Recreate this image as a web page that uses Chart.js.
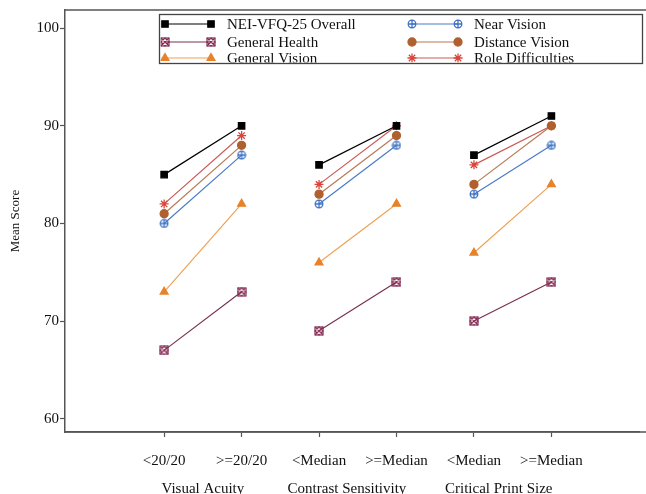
<!DOCTYPE html>
<html>
<head>
<meta charset="utf-8">
<script src="https://cdn.jsdelivr.net/npm/chart.js@4"></script>
<style>
  body { margin: 0; background: #fff; }
</style>
</head>
<body>
<canvas id="grafico" width="646" height="494"></canvas>
<script>
// dados
const tickLabels = ['<20/20', '>=20/20', '<Median', '>=Median', '<Median', '>=Median'];
const groupLabels = ['Visual Acuity', 'Contrast Sensitivity', 'Critical Print Size'];
const overall = [85, 90, 86, 90, 87, 91];
const generalHealth = [67, 73, 69, 74, 70, 74];
const generalVision = [73, 82, 76, 82, 77, 84];
const nearVision = [80, 87, 82, 88, 83, 88];
const distanceVision = [81, 88, 83, 89, 84, 90];
const roleDifficulties = [82, 89, 84, 90, 86, 90];

// onde ficam os titulos dos grupos (em unidades do eixo x)
const groupPos = [1.5, 3.36, 5.32];
const serif = '"Liberation Serif", "DejaVu Serif", serif';

// marcadores desenhados a mao
function makeMarker(draw) {
    const c = document.createElement('canvas');
    c.width = 10;
    c.height = 10;
    draw(c.getContext('2d'));
    return c;
}
const boxX = makeMarker(ctx => {
    ctx.strokeStyle = '#862d55';
    ctx.lineWidth = 1.2;
    ctx.strokeRect(1, 1, 8, 8);
    ctx.beginPath();
    ctx.moveTo(1, 1); ctx.lineTo(9, 9);
    ctx.moveTo(9, 1); ctx.lineTo(1, 9);
    ctx.moveTo(5, 1); ctx.lineTo(9, 5); ctx.lineTo(5, 9); ctx.lineTo(1, 5); ctx.closePath();
    ctx.stroke();
});
const circlePlus = makeMarker(ctx => {
    ctx.strokeStyle = '#3f72c2';
    ctx.lineWidth = 1.3;
    ctx.beginPath();
    ctx.arc(5, 5, 3.8, 0, Math.PI * 2);
    ctx.moveTo(5, 1); ctx.lineTo(5, 9);
    ctx.moveTo(1, 5); ctx.lineTo(9, 5);
    ctx.stroke();
});

// quebra a linha entre os grupos
function toPoints(values) {
    const pts = [];
    values.forEach((v, i) => {
        pts.push({ x: i + 1, y: v });
        if (i % 2 === 1) pts.push({ x: i + 1.5, y: null });
    });
    return pts;
}

function serie(label, values, line, mark, style, radius) {
    return {
        label: label,
        data: toPoints(values),
        borderColor: line,
        borderWidth: 1.2,
        pointStyle: style,
        pointRadius: radius,
        pointBackgroundColor: mark,
        pointBorderColor: mark,
        pointBorderWidth: 1.3,
        spanGaps: false,
        legendCol: 0,
        legendRow: 0
    };
}

const datasets = [
    serie('NEI-VFQ-25 Overall', overall, '#000000', '#000000', 'rect', 4.5),
    serie('General Health', generalHealth, '#7a3152', '#862d55', boxX, 5),
    serie('General Vision', generalVision, '#f0a257', '#e8822a', 'triangle', 4.5),
    serie('Near Vision', nearVision, '#4a7cc8', '#3f72c2', circlePlus, 5),
    serie('Distance Vision', distanceVision, '#b97a55', '#b0602f', 'circle', 4),
    serie('Role Difficulties', roleDifficulties, '#cc5a55', '#d9453a', 'star', 4.5)
];
datasets.forEach((d, i) => { d.legendCol = Math.floor(i / 3); d.legendRow = i % 3; });

// moldura (cima e resto da linha de baixo) e legenda em duas colunas
const extras = {
    id: 'extras',
    afterDraw(chart) {
        const ctx = chart.ctx;
        const area = chart.chartArea;
        ctx.save();
        ctx.strokeStyle = '#555';
        ctx.lineWidth = 1.5;
        ctx.beginPath();
        ctx.moveTo(area.left, area.top);
        ctx.lineTo(chart.width, area.top);
        ctx.moveTo(area.left, area.bottom);
        ctx.lineTo(chart.width, area.bottom);
        ctx.stroke();

        const box = { x: 159.5, y: 14.5, w: 483, h: 49 };
        ctx.fillStyle = '#fff';
        ctx.fillRect(box.x, box.y, box.w, box.h);
        ctx.strokeStyle = '#444';
        ctx.lineWidth = 1.3;
        ctx.strokeRect(box.x, box.y, box.w, box.h);

        ctx.beginPath();
        ctx.rect(box.x + 1, box.y + 1, box.w - 2, box.h - 2);
        ctx.clip();
        const cols = [165, 412];
        const rows = [24, 42, 58];
        chart.data.datasets.forEach(d => {
            const x0 = cols[d.legendCol];
            const y = rows[d.legendRow];
            ctx.strokeStyle = d.borderColor;
            ctx.lineWidth = 1.2;
            ctx.beginPath();
            ctx.moveTo(x0, y);
            ctx.lineTo(x0 + 46, y);
            ctx.stroke();
            ctx.fillStyle = d.pointBackgroundColor;
            ctx.strokeStyle = d.pointBorderColor;
            ctx.lineWidth = d.pointBorderWidth;
            [x0, x0 + 46].forEach(px => {
                Chart.helpers.drawPoint(ctx, {
                    pointStyle: d.pointStyle, radius: d.pointRadius, rotation: 0, borderWidth: d.pointBorderWidth
                }, px, y);
            });
            ctx.fillStyle = '#111';
            ctx.font = '15px ' + serif;
            ctx.textBaseline = 'middle';
            ctx.textAlign = 'left';
            ctx.fillText(d.label, x0 + 62, y + 1);
        });
        ctx.restore();
    }
};

const grafico = document.getElementById('grafico');
new Chart(grafico, {
    type: 'line',
    data: { datasets: datasets },
    plugins: [extras],
    options: {
        responsive: false,
        animation: false,
        layout: { padding: { top: 9, right: 0, left: 0, bottom: 0 } },
        plugins: {
            legend: { display: false },
            tooltip: { enabled: false }
        },
        scales: {
            x: {
                type: 'linear',
                position: 'bottom',
                min: -0.28,
                max: 7.14,
                afterBuildTicks: axis => { axis.ticks = tickLabels.map((t, i) => ({ value: i + 1 })); },
                afterFit: axis => { axis.height = 39; },
                ticks: {
                    autoSkip: false,
                    maxRotation: 0,
                    padding: 15,
                    color: '#111',
                    font: { family: serif, size: 15 },
                    callback: v => tickLabels[v - 1]
                },
                grid: { drawOnChartArea: false, tickLength: 5, tickColor: '#555', tickWidth: 1.2 },
                border: { color: '#555', width: 1.5 }
            },
            x2: {
                type: 'linear',
                position: 'bottom',
                min: -0.28,
                max: 7.14,
                afterBuildTicks: axis => { axis.ticks = groupPos.map(p => ({ value: p })); },
                afterFit: axis => { axis.height = 23; },
                ticks: {
                    autoSkip: false,
                    maxRotation: 0,
                    padding: 9,
                    color: '#111',
                    font: { family: serif, size: 15 },
                    callback: v => groupLabels[groupPos.indexOf(v)]
                },
                grid: { display: false, drawTicks: false },
                border: { display: false }
            },
            y: {
                min: 58.64,
                max: 101.86,
                afterBuildTicks: axis => { axis.ticks = [60, 70, 80, 90, 100].map(v => ({ value: v })); },
                afterFit: axis => { axis.width = 65; },
                ticks: {
                    padding: 1,
                    color: '#111',
                    font: { family: serif, size: 15 }
                },
                grid: { drawOnChartArea: false, tickLength: 5, tickColor: '#555', tickWidth: 1.2 },
                border: { color: '#555', width: 1.5 },
                title: {
                    display: true,
                    text: 'Mean Score',
                    color: '#111',
                    padding: { top: 8, bottom: 0 },
                    font: { family: serif, size: 13 }
                }
            }
        }
    }
});
</script>
</body>
</html>
